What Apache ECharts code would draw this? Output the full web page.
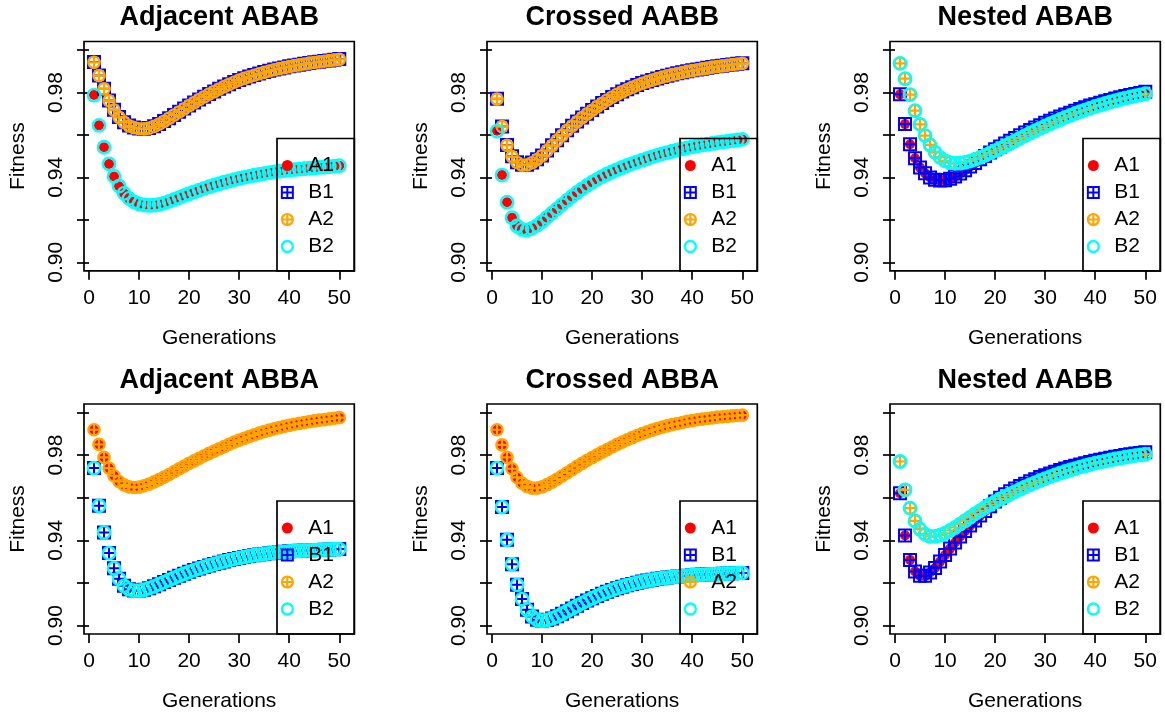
<!DOCTYPE html>
<html><head><meta charset="utf-8">
<script src="https://cdn.jsdelivr.net/npm/echarts@6/dist/echarts.min.js"></script>
<style>html,body{margin:0;padding:0;background:#fff}#c{width:1165px;height:720px}</style>
</head><body><div id="c"></div>
<script>
// ---------------- data ----------------
const generations = [1,2,3,4,5,6,7,8,9,10,11,12,13,14,15,16,17,18,19,20,21,22,23,24,25,26,27,28,29,30,31,32,33,34,35,36,37,38,39,40,41,42,43,44,45,46,47,48,49,50];
const panelTitles = ['Adjacent ABAB','Crossed AABB','Nested ABAB','Adjacent ABBA','Crossed ABBA','Nested AABB'];
const seriesNames = ['A1','B1','A2','B2'];
const yTickValues = [0.90,0.92,0.94,0.96,0.98,1.00];
const yLabelValues = [0.90,0.94,0.98];
const xTickValues = [0,10,20,30,40,50];

// Adjacent ABAB
const adjABAB_A1 = [0.9788,0.9645,0.9542,0.9463,0.9404,0.9358,0.9324,0.9300,0.9284,0.9274,0.9269,0.9267,0.9269,0.9273,0.9279,0.9287,0.9296,0.9305,0.9314,0.9323,0.9332,0.9340,0.9348,0.9356,0.9363,0.9370,0.9377,0.9383,0.9389,0.9395,0.9400,0.9405,0.9410,0.9414,0.9418,0.9422,0.9426,0.9429,0.9432,0.9435,0.9437,0.9439,0.9441,0.9443,0.9445,0.9447,0.9449,0.9451,0.9453,0.9455];
const adjABAB_B1 = [0.9943,0.9880,0.9818,0.9762,0.9718,0.9684,0.9660,0.9644,0.9635,0.9630,0.9629,0.9633,0.9641,0.9652,0.9665,0.9679,0.9694,0.9709,0.9724,0.9739,0.9753,0.9767,0.9780,0.9793,0.9805,0.9817,0.9828,0.9839,0.9849,0.9859,0.9867,0.9875,0.9882,0.9889,0.9896,0.9902,0.9908,0.9913,0.9918,0.9923,0.9927,0.9931,0.9935,0.9939,0.9942,0.9945,0.9948,0.9951,0.9954,0.9957];
const adjABAB_A2 = [0.9942,0.9879,0.9817,0.9761,0.9717,0.9683,0.9659,0.9643,0.9634,0.9629,0.9628,0.9632,0.9640,0.9651,0.9664,0.9678,0.9693,0.9708,0.9723,0.9738,0.9752,0.9766,0.9779,0.9792,0.9804,0.9816,0.9827,0.9838,0.9848,0.9858,0.9866,0.9874,0.9881,0.9888,0.9895,0.9901,0.9907,0.9912,0.9917,0.9922,0.9926,0.9930,0.9934,0.9938,0.9941,0.9944,0.9947,0.9950,0.9953,0.9956];
const adjABAB_B2 = [0.9787,0.9645,0.9542,0.9464,0.9405,0.9359,0.9325,0.9301,0.9285,0.9275,0.9270,0.9268,0.9269,0.9273,0.9279,0.9287,0.9296,0.9305,0.9314,0.9323,0.9332,0.9340,0.9348,0.9356,0.9363,0.9370,0.9377,0.9383,0.9389,0.9395,0.9400,0.9405,0.9410,0.9414,0.9418,0.9422,0.9426,0.9429,0.9432,0.9435,0.9437,0.9439,0.9441,0.9443,0.9445,0.9447,0.9449,0.9451,0.9453,0.9455];

// Crossed AABB
const crsAABB_A1 = [0.9620,0.9411,0.9283,0.9210,0.9171,0.9155,0.9152,0.9160,0.9174,0.9192,0.9212,0.9232,0.9252,0.9272,0.9292,0.9311,0.9329,0.9346,0.9362,0.9377,0.9391,0.9404,0.9416,0.9427,0.9437,0.9447,0.9456,0.9465,0.9473,0.9481,0.9489,0.9497,0.9504,0.9511,0.9517,0.9523,0.9529,0.9534,0.9539,0.9544,0.9548,0.9552,0.9556,0.9560,0.9564,0.9567,0.9570,0.9573,0.9576,0.9579];
const crsAABB_B1 = [0.9770,0.9640,0.9552,0.9499,0.9471,0.9459,0.9460,0.9470,0.9485,0.9503,0.9527,0.9551,0.9575,0.9599,0.9622,0.9643,0.9663,0.9682,0.9700,0.9717,0.9734,0.9750,0.9765,0.9779,0.9792,0.9804,0.9815,0.9825,0.9835,0.9844,0.9852,0.9859,0.9866,0.9873,0.9879,0.9885,0.9890,0.9895,0.9900,0.9904,0.9908,0.9912,0.9916,0.9920,0.9923,0.9926,0.9929,0.9932,0.9935,0.9938];
const crsAABB_A2 = [0.9769,0.9639,0.9551,0.9498,0.9470,0.9458,0.9459,0.9469,0.9484,0.9502,0.9526,0.9550,0.9574,0.9598,0.9621,0.9642,0.9662,0.9681,0.9699,0.9716,0.9733,0.9749,0.9764,0.9778,0.9791,0.9803,0.9814,0.9824,0.9834,0.9843,0.9851,0.9858,0.9865,0.9872,0.9878,0.9884,0.9889,0.9894,0.9899,0.9903,0.9907,0.9911,0.9915,0.9919,0.9922,0.9925,0.9928,0.9931,0.9934,0.9937];
const crsAABB_B2 = [0.9618,0.9411,0.9283,0.9210,0.9171,0.9155,0.9152,0.9160,0.9174,0.9192,0.9212,0.9232,0.9252,0.9272,0.9292,0.9311,0.9329,0.9346,0.9362,0.9377,0.9391,0.9404,0.9416,0.9427,0.9437,0.9447,0.9456,0.9465,0.9473,0.9481,0.9489,0.9497,0.9504,0.9511,0.9517,0.9523,0.9529,0.9534,0.9539,0.9544,0.9548,0.9552,0.9556,0.9560,0.9564,0.9567,0.9570,0.9573,0.9576,0.9579];

// Nested ABAB
const nstABAB_A1 = [0.9791,0.9651,0.9556,0.9490,0.9446,0.9419,0.9400,0.9389,0.9385,0.9387,0.9394,0.9404,0.9418,0.9434,0.9451,0.9468,0.9485,0.9501,0.9517,0.9532,0.9546,0.9560,0.9573,0.9586,0.9599,0.9611,0.9623,0.9635,0.9646,0.9657,0.9667,0.9677,0.9687,0.9696,0.9705,0.9714,0.9722,0.9730,0.9738,0.9745,0.9752,0.9759,0.9765,0.9771,0.9777,0.9783,0.9788,0.9793,0.9798,0.9803];
const nstABAB_B1 = [0.9791,0.9651,0.9556,0.9490,0.9446,0.9419,0.9400,0.9389,0.9385,0.9387,0.9394,0.9404,0.9418,0.9434,0.9451,0.9468,0.9485,0.9501,0.9517,0.9532,0.9546,0.9560,0.9573,0.9586,0.9599,0.9611,0.9623,0.9635,0.9646,0.9657,0.9667,0.9677,0.9687,0.9696,0.9705,0.9714,0.9722,0.9730,0.9738,0.9745,0.9752,0.9759,0.9765,0.9771,0.9777,0.9783,0.9788,0.9793,0.9798,0.9803];
const nstABAB_A2 = [0.9937,0.9865,0.9790,0.9714,0.9650,0.9597,0.9553,0.9518,0.9494,0.9478,0.9469,0.9466,0.9467,0.9471,0.9477,0.9485,0.9494,0.9504,0.9515,0.9526,0.9537,0.9549,0.9561,0.9573,0.9585,0.9597,0.9609,0.9620,0.9631,0.9642,0.9653,0.9663,0.9673,0.9683,0.9692,0.9701,0.9710,0.9718,0.9726,0.9734,0.9741,0.9748,0.9755,0.9761,0.9767,0.9773,0.9779,0.9784,0.9789,0.9794];
const nstABAB_B2 = [0.9937,0.9865,0.9790,0.9714,0.9650,0.9597,0.9553,0.9518,0.9494,0.9478,0.9469,0.9466,0.9467,0.9471,0.9477,0.9485,0.9494,0.9504,0.9515,0.9526,0.9537,0.9549,0.9561,0.9573,0.9585,0.9597,0.9609,0.9620,0.9631,0.9642,0.9653,0.9663,0.9673,0.9683,0.9692,0.9701,0.9710,0.9718,0.9726,0.9734,0.9741,0.9748,0.9755,0.9761,0.9767,0.9773,0.9779,0.9784,0.9789,0.9794];

// Adjacent ABBA
const adjABBA_A1 = [0.9919,0.9850,0.9789,0.9739,0.9703,0.9676,0.9660,0.9651,0.9648,0.9650,0.9656,0.9664,0.9674,0.9685,0.9697,0.9709,0.9722,0.9735,0.9748,0.9761,0.9773,0.9785,0.9797,0.9808,0.9819,0.9829,0.9840,0.9851,0.9861,0.9870,0.9879,0.9887,0.9895,0.9903,0.9910,0.9917,0.9923,0.9929,0.9935,0.9940,0.9945,0.9949,0.9953,0.9957,0.9961,0.9964,0.9967,0.9970,0.9973,0.9976];
const adjABBA_B1 = [0.9739,0.9562,0.9437,0.9340,0.9269,0.9219,0.9186,0.9170,0.9164,0.9164,0.9168,0.9175,0.9184,0.9194,0.9204,0.9214,0.9224,0.9234,0.9243,0.9252,0.9260,0.9268,0.9275,0.9282,0.9289,0.9295,0.9301,0.9307,0.9312,0.9317,0.9322,0.9326,0.9330,0.9333,0.9336,0.9339,0.9342,0.9344,0.9346,0.9348,0.9350,0.9351,0.9352,0.9353,0.9354,0.9355,0.9356,0.9357,0.9358,0.9359];
const adjABBA_A2 = [0.9919,0.9850,0.9789,0.9739,0.9703,0.9676,0.9660,0.9651,0.9648,0.9650,0.9656,0.9664,0.9674,0.9685,0.9697,0.9709,0.9722,0.9735,0.9748,0.9761,0.9773,0.9785,0.9797,0.9808,0.9819,0.9829,0.9840,0.9851,0.9861,0.9870,0.9879,0.9887,0.9895,0.9903,0.9910,0.9917,0.9923,0.9929,0.9935,0.9940,0.9945,0.9949,0.9953,0.9957,0.9961,0.9964,0.9967,0.9970,0.9973,0.9976];
const adjABBA_B2 = [0.9739,0.9562,0.9437,0.9340,0.9269,0.9219,0.9186,0.9170,0.9164,0.9164,0.9168,0.9175,0.9184,0.9194,0.9204,0.9214,0.9224,0.9234,0.9243,0.9252,0.9260,0.9268,0.9275,0.9282,0.9289,0.9295,0.9301,0.9307,0.9312,0.9317,0.9322,0.9326,0.9330,0.9333,0.9336,0.9339,0.9342,0.9344,0.9346,0.9348,0.9350,0.9351,0.9352,0.9353,0.9354,0.9355,0.9356,0.9357,0.9358,0.9359];

// Crossed ABBA
const crsABBA_A1 = [0.9919,0.9848,0.9789,0.9736,0.9695,0.9668,0.9653,0.9645,0.9645,0.9651,0.9661,0.9673,0.9687,0.9702,0.9717,0.9732,0.9747,0.9761,0.9775,0.9788,0.9801,0.9814,0.9826,0.9838,0.9850,0.9861,0.9872,0.9882,0.9892,0.9901,0.9909,0.9917,0.9924,0.9931,0.9937,0.9943,0.9948,0.9953,0.9958,0.9962,0.9966,0.9969,0.9972,0.9975,0.9978,0.9980,0.9982,0.9984,0.9986,0.9988];
const crsABBA_B1 = [0.9739,0.9556,0.9402,0.9288,0.9191,0.9124,0.9074,0.9042,0.9027,0.9023,0.9026,0.9033,0.9043,0.9055,0.9067,0.9080,0.9093,0.9105,0.9117,0.9128,0.9139,0.9149,0.9158,0.9167,0.9175,0.9182,0.9189,0.9195,0.9201,0.9206,0.9211,0.9215,0.9219,0.9222,0.9225,0.9228,0.9230,0.9232,0.9234,0.9236,0.9238,0.9239,0.9240,0.9241,0.9242,0.9243,0.9244,0.9245,0.9246,0.9247];
const crsABBA_A2 = [0.9919,0.9848,0.9789,0.9736,0.9695,0.9668,0.9653,0.9645,0.9645,0.9651,0.9661,0.9673,0.9687,0.9702,0.9717,0.9732,0.9747,0.9761,0.9775,0.9788,0.9801,0.9814,0.9826,0.9838,0.9850,0.9861,0.9872,0.9882,0.9892,0.9901,0.9909,0.9917,0.9924,0.9931,0.9937,0.9943,0.9948,0.9953,0.9958,0.9962,0.9966,0.9969,0.9972,0.9975,0.9978,0.9980,0.9982,0.9984,0.9986,0.9988];
const crsABBA_B2 = [0.9739,0.9556,0.9402,0.9288,0.9191,0.9124,0.9074,0.9042,0.9027,0.9023,0.9026,0.9033,0.9043,0.9055,0.9067,0.9080,0.9093,0.9105,0.9117,0.9128,0.9139,0.9149,0.9158,0.9167,0.9175,0.9182,0.9189,0.9195,0.9201,0.9206,0.9211,0.9215,0.9219,0.9222,0.9225,0.9228,0.9230,0.9232,0.9234,0.9236,0.9238,0.9239,0.9240,0.9241,0.9242,0.9243,0.9244,0.9245,0.9246,0.9247];

// Nested AABB
const nstAABB_A1 = [0.9621,0.9423,0.9308,0.9254,0.9233,0.9233,0.9249,0.9270,0.9300,0.9331,0.9361,0.9390,0.9418,0.9444,0.9469,0.9493,0.9516,0.9537,0.9560,0.9582,0.9600,0.9616,0.9630,0.9643,0.9655,0.9666,0.9677,0.9687,0.9697,0.9706,0.9714,0.9722,0.9730,0.9737,0.9744,0.9750,0.9756,0.9762,0.9768,0.9773,0.9778,0.9783,0.9788,0.9792,0.9796,0.9800,0.9804,0.9807,0.9810,0.9813];
const nstAABB_B1 = [0.9621,0.9423,0.9308,0.9254,0.9233,0.9233,0.9249,0.9270,0.9300,0.9331,0.9361,0.9390,0.9418,0.9444,0.9469,0.9493,0.9516,0.9537,0.9560,0.9582,0.9600,0.9616,0.9630,0.9643,0.9655,0.9666,0.9677,0.9687,0.9697,0.9706,0.9714,0.9722,0.9730,0.9737,0.9744,0.9750,0.9756,0.9762,0.9768,0.9773,0.9778,0.9783,0.9788,0.9792,0.9796,0.9800,0.9804,0.9807,0.9810,0.9813];
const nstAABB_A2 = [0.9770,0.9637,0.9551,0.9491,0.9452,0.9429,0.9418,0.9418,0.9424,0.9433,0.9446,0.9460,0.9476,0.9492,0.9508,0.9524,0.9539,0.9554,0.9568,0.9581,0.9594,0.9606,0.9618,0.9629,0.9640,0.9651,0.9661,0.9671,0.9681,0.9690,0.9699,0.9707,0.9715,0.9723,0.9730,0.9737,0.9744,0.9750,0.9756,0.9762,0.9767,0.9772,0.9777,0.9782,0.9786,0.9790,0.9794,0.9798,0.9801,0.9804];
const nstAABB_B2 = [0.9770,0.9637,0.9551,0.9491,0.9452,0.9429,0.9418,0.9418,0.9424,0.9433,0.9446,0.9460,0.9476,0.9492,0.9508,0.9524,0.9539,0.9554,0.9568,0.9581,0.9594,0.9606,0.9618,0.9629,0.9640,0.9651,0.9661,0.9671,0.9681,0.9690,0.9699,0.9707,0.9715,0.9723,0.9730,0.9737,0.9744,0.9750,0.9756,0.9762,0.9767,0.9772,0.9777,0.9782,0.9786,0.9790,0.9794,0.9798,0.9801,0.9804];

const panelSeries = [
  [adjABAB_A1, adjABAB_B1, adjABAB_A2, adjABAB_B2],
  [crsAABB_A1, crsAABB_B1, crsAABB_A2, crsAABB_B2],
  [nstABAB_A1, nstABAB_B1, nstABAB_A2, nstABAB_B2],
  [adjABBA_A1, adjABBA_B1, adjABBA_A2, adjABBA_B2],
  [crsABBA_A1, crsABBA_B1, crsABBA_A2, crsABBA_B2],
  [nstAABB_A1, nstAABB_B1, nstAABB_A2, nstAABB_B2]
];

// ---------------- layout & style ----------------
const FONT = '"Liberation Sans", Arial, Helvetica, sans-serif';
const colLeft = [84, 487, 890];
const rowTop = [41.5, 404];
const gridW = 270.3;
const rowH = [229.3, 230];
const titleTop = [4, 367.5];
const LW = 1.7;

const markers = [
  {symbol: 'circle', symbolSize: 10, itemStyle: {color: '#FF0000', opacity: 1}},
  {symbol: 'path://M0,0L10,0L10,10L0,10Z M5,0L5,10 M0,5L10,5', symbolSize: 12, itemStyle: {color: 'rgba(0,0,0,0)', borderColor: '#0000FF', borderWidth: 2, opacity: 1}},
  {symbol: 'path://M0,5A5,5,0,1,1,10,5A5,5,0,1,1,0,5Z M5,0L5,10 M0,5L10,5', symbolSize: 11.5, itemStyle: {color: 'rgba(0,0,0,0)', borderColor: '#FFA500', borderWidth: 2.2, opacity: 1}},
  {symbol: 'circle', symbolSize: 12.5, itemStyle: {color: 'rgba(0,0,0,0)', borderColor: '#00FFFF', borderWidth: 2.3, opacity: 1}}
];

const grids = [], xAxes = [], yAxes = [], series = [], titles = [], legends = [], graphics = [];
panelTitles.forEach((t, i) => {
  const left = colLeft[i % 3];
  const r = Math.floor(i / 3);
  const top = rowTop[r];
  const h = rowH[r];
  grids.push({left: left, top: top, width: gridW, height: h, show: true, borderColor: '#000', borderWidth: LW, backgroundColor: 'rgba(0,0,0,0)', containLabel: false});
  xAxes.push({
    gridIndex: i, type: 'value', min: -1, max: 53,
    axisLine: {show: false}, splitLine: {show: false},
    axisTick: {show: true, customValues: xTickValues, length: 9, lineStyle: {color: '#000', width: LW}},
    axisLabel: {customValues: xTickValues, color: '#000', fontSize: 21, fontFamily: FONT, margin: 17},
    name: 'Generations', nameLocation: 'middle', nameGap: 57,
    nameTextStyle: {color: '#000', fontSize: 21, fontFamily: FONT}
  });
  yAxes.push({
    gridIndex: i, type: 'value', min: 0.896, max: 1.004,
    axisLine: {show: false}, splitLine: {show: false},
    axisTick: {show: true, customValues: yTickValues, length: 12, lineStyle: {color: '#000', width: LW}},
    axisLabel: {customValues: yLabelValues, rotate: 90, color: '#000', fontSize: 21, fontFamily: FONT, margin: 17,
      formatter: v => Number(v).toFixed(2)},
    name: 'Fitness', nameLocation: 'middle', nameGap: 55,
    nameTextStyle: {color: '#000', fontSize: 21, fontFamily: FONT}
  });
  titles.push({text: t, left: left + gridW / 2, top: titleTop[r], textAlign: 'center', padding: 0,
    textStyle: {fontSize: 27, fontWeight: 'bold', color: '#000', fontFamily: FONT}});
  panelSeries[i].forEach((vals, k) => {
    series.push(Object.assign({
      name: seriesNames[k], type: 'scatter', xAxisIndex: i, yAxisIndex: i,
      data: generations.map((g, j) => [g, vals[j]]),
      silent: true
    }, JSON.parse(JSON.stringify(markers[k]))));
  });
  legends.push({
    left: left + 196.7, top: top + 113.5, orient: 'vertical', padding: 0,
    itemWidth: 32, itemHeight: 11, itemGap: 6, selectedMode: false,
    textStyle: {color: '#000', fontSize: 21, fontFamily: FONT},
    data: seriesNames.map((n, k) => ({name: n, icon: markers[k].symbol, itemStyle: markers[k].itemStyle}))
  });
  graphics.push({type: 'rect', z: 100, silent: true,
    shape: {x: left + 193, y: top + 97, width: gridW - 193, height: h - 97},
    style: {fill: 'none', stroke: '#000', lineWidth: LW}});
});

const chart = echarts.init(document.getElementById('c'), null, {renderer: 'canvas'});
chart.setOption({
  animation: false,
  backgroundColor: '#fff',
  title: titles, grid: grids, xAxis: xAxes, yAxis: yAxes,
  legend: legends, series: series, graphic: graphics
});
</script>
</body></html>
